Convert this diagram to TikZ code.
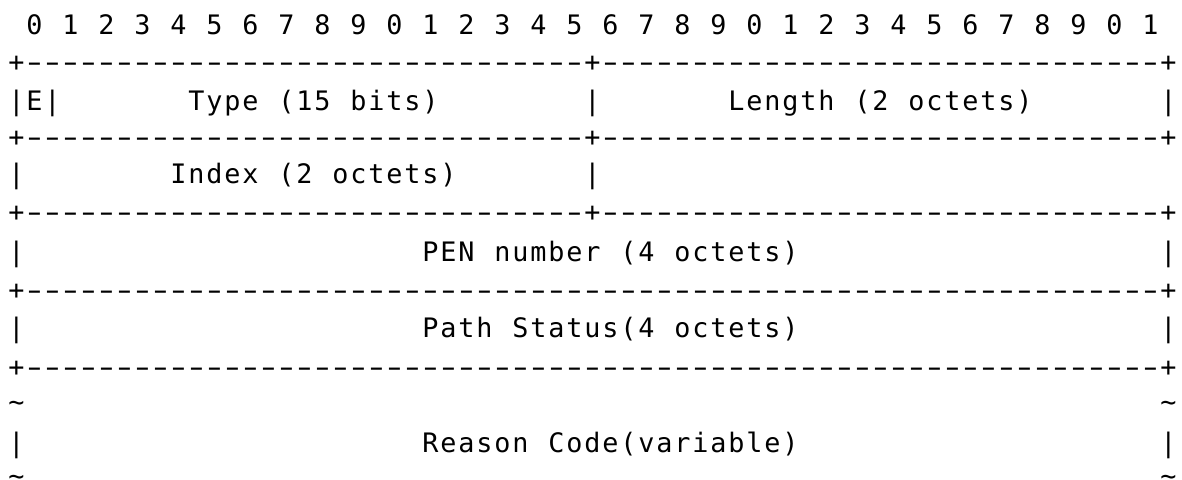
\documentclass[tikz,border=0pt]{standalone}
\usepackage{fontspec}
\usepackage{graphicx}
\newfontfamily\asciifont{DejaVu Sans Mono}
\ExplSyntaxOn
\NewDocumentCommand\spread{m}{\str_map_inline:nn{#1}{\makebox[9pt][c]{##1}}}
\NewDocumentCommand\dashrun{m}{\prg_replicate:nn{#1}{\makebox[9pt][c]{\scalebox{1.6}[1]{-}}}}
\ExplSyntaxOff
\tikzset{
  ascii/.style={anchor=base west, inner sep=0pt, outer sep=0pt,
    font=\asciifont\fontsize{13.4pt}{15pt}\selectfont, text=black}
}
\begin{document}
\begin{tikzpicture}[x=0.5pt,y=-0.5pt]
\useasboundingbox[fill=white] (0,0) rectangle (1182,480);
\clip (0,0) rectangle (1182,480);
\def\cx#1{7.5+18*#1}
% row 0: bit numbers
\node[ascii] (bits) at ({\cx{1}},35) {\spread{0 1 2 3 4 5 6 7 8 9 0 1 2 3 4 5 6 7 8 9 0 1 2 3 4 5 6 7 8 9 0 1}};
% row 1
\node[ascii] (sep1) at ({\cx{0}},72) {\spread{+}\dashrun{31}\spread{+}\dashrun{31}\spread{+}};
% row 2
\node[ascii] (r2a) at ({\cx{0}},111) {\spread{|E|}};
\node[ascii] (type) at ({\cx{10}},111) {\spread{Type (15 bits)}};
\node[ascii] (r2b) at ({\cx{32}},111) {\spread{|}};
\node[ascii] (length) at ({\cx{40}},111) {\spread{Length (2 octets)}};
\node[ascii] (r2c) at ({\cx{64}},111) {\spread{|}};
% row 3
\node[ascii] (sep3) at ({\cx{0}},147) {\spread{+}\dashrun{31}\spread{+}\dashrun{31}\spread{+}};
% row 4
\node[ascii] (r4a) at ({\cx{0}},184) {\spread{|}};
\node[ascii] (index) at ({\cx{9}},184) {\spread{Index (2 octets)}};
\node[ascii] (r4b) at ({\cx{32}},184) {\spread{|}};
% row 5
\node[ascii] (sep5) at ({\cx{0}},222) {\spread{+}\dashrun{31}\spread{+}\dashrun{31}\spread{+}};
% row 6
\node[ascii] (r6a) at ({\cx{0}},262) {\spread{|}};
\node[ascii] (pen) at ({\cx{23}},262) {\spread{PEN number (4 octets)}};
\node[ascii] (r6b) at ({\cx{64}},262) {\spread{|}};
% row 7
\node[ascii] (sep7) at ({\cx{0}},300) {\spread{+}\dashrun{63}\spread{+}};
% row 8
\node[ascii] (r8a) at ({\cx{0}},338) {\spread{|}};
\node[ascii] (status) at ({\cx{23}},338) {\spread{Path Status(4 octets)}};
\node[ascii] (r8b) at ({\cx{64}},338) {\spread{|}};
% row 9
\node[ascii] (sep9) at ({\cx{0}},376) {\spread{+}\dashrun{63}\spread{+}};
% row 10
\node[ascii] (t10a) at ({\cx{0}},411) {\spread{~}};
\node[ascii] (t10b) at ({\cx{64}},411) {\spread{~}};
% row 11
\node[ascii] (r11a) at ({\cx{0}},452) {\spread{|}};
\node[ascii] (reason) at ({\cx{23}},452) {\spread{Reason Code(variable)}};
\node[ascii] (r11b) at ({\cx{64}},452) {\spread{|}};
% row 12
\node[ascii] (t12a) at ({\cx{0}},485) {\spread{~}};
\node[ascii] (t12b) at ({\cx{64}},485) {\spread{~}};
\end{tikzpicture}
\end{document}
